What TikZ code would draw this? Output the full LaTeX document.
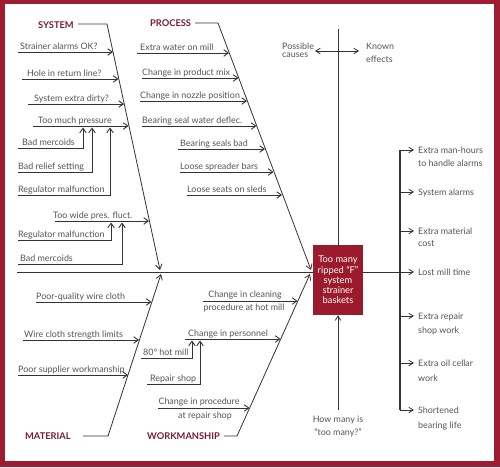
\documentclass[tikz,border=0pt]{standalone}
\usepackage{fontspec}
\setmainfont{Lato}
\usetikzlibrary{arrows.meta,calc}
\definecolor{frame}{HTML}{9E1B32}
\definecolor{boxred}{HTML}{9B1B2C}
\definecolor{cat}{HTML}{7A1838}
\definecolor{txt}{HTML}{555555}
\definecolor{ln}{HTML}{333333}
\newcommand\causeitem[6]{%
  \coordinate (#1s) at (#4,#3); \coordinate (#1e) at (#5,#3);
  \node[lbl] (#1) at (#2,#3-3) {#6};
  \draw[cause] (#1s) -- (#1e);}
\newcommand\minoritem[7]{%
  \coordinate (#1s) at (#4,#3); \coordinate (#1c) at (#5,#3); \coordinate (#1e) at (#5,#6);
  \node[lbl] (#1) at (#2,#3-3) {#7};
  \draw[cause] (#1s) -- (#1c) -- (#1e);}
\newcommand\effitem[3]{%
  \coordinate (#1s) at (400,#2); \coordinate (#1e) at (414,#2);
  \draw[feed] (#1s) -- (#1e);
  \node[elbl] (#1) at (418,#2+3) {#3};}
\begin{document}
\begin{tikzpicture}[x=1pt,y=-1pt,
  lbl/.style={anchor=base west,inner sep=0pt,text=txt,font=\fontsize{8.9}{10}\selectfont},
  elbl/.style={anchor=base west,inner sep=0pt,text=txt,font=\fontsize{8.9}{10}\selectfont},
  catl/.style={anchor=base west,inner sep=0pt,text=cat,font=\bfseries\fontsize{9.3}{10}\selectfont},
  cause/.style={draw=ln,line width=0.9pt,-{Straight Barb[length=4.5pt,width=6.5pt]}},
  bone/.style={draw=ln,line width=0.8pt,-{Straight Barb[length=5pt,width=6.5pt]}},
  feed/.style={draw=ln,line width=0.8pt,-{Straight Barb[length=4.5pt,width=5.5pt]}},
  plain/.style={draw=ln,line width=0.8pt},
 ]
\useasboundingbox (0,0) rectangle (500,467);
\fill[frame] (0,0) rectangle (500,467);
\fill[white] (5,4) rectangle (494,461);

% effect box
\node[fill=boxred,minimum width=50pt,minimum height=70pt,inner sep=0pt,text=white,align=center,
  font=\fontsize{9.3}{10.2}\selectfont] (eff) at (338,280) {Too many\\ripped “F”\\system\\strainer\\baskets};

% spine
\coordinate (spS) at (17,272);
\draw[line width=1pt,ln] (spS) -- (eff.west |- spS);
\coordinate (lostE) at (414,272);
\draw[feed] (eff.east |- spS) -- (lostE);

% top divider
\coordinate (topv) at (338,29);
\draw[plain] (topv) -- (eff.north);
\coordinate (pa) at (315,51); \coordinate (ka) at (359,51);
\draw[draw=ln,line width=0.8pt,{Straight Barb[length=4.5pt,width=5.5pt]}-{Straight Barb[length=4.5pt,width=5.5pt]}] (pa) -- (ka);
\node[lbl] (pc1) at (282,49) {Possible};
\node[lbl] (pc2) at (282,57) {causes};
\node[lbl] (ke1) at (366,49) {Known};
\node[lbl] (ke2) at (366,62) {effects};

% bottom question
\node[lbl,anchor=base] (hm1) at (338,422) {How many is};
\node[lbl,anchor=base] (hm2) at (338,435) {“too many?”};
\coordinate (hmt) at (338,410);
\draw[feed] (hmt) -- (eff.south);

% effects
\coordinate (vt) at (400,150); \coordinate (vb) at (400,410);
\draw[draw=ln,line width=1.2pt] (vt) -- (vb);
\effitem{e1}{150}{Extra man-hours}
\node[elbl] (e1b) at (418,166) {to handle alarms};
\effitem{e2}{192}{System alarms}
\effitem{e3}{231}{Extra material}
\node[elbl] (e3b) at (418,246) {cost};
\node[elbl] (e4) at (418,275) {Lost mill time};
\effitem{e5}{316}{Extra repair}
\node[elbl] (e5b) at (418,333) {shop work};
\effitem{e6}{363}{Extra oil cellar}
\node[elbl] (e6b) at (418,381) {work};
\effitem{e7}{410}{Shortened}
\node[elbl] (e7b) at (418,428) {bearing life};

% SYSTEM bone
\node[catl] (sys) at (38,28) {SYSTEM};
\coordinate (sysA) at (78,24); \coordinate (sysB) at (107,24); \coordinate (sysC) at (160,270);
\draw[bone] (sysA) -- (sysB) -- (sysC);
\causeitem{s1}{20}{52}{18}{113}{Strainer alarms OK?}
\causeitem{s2}{27}{79}{22}{118.5}{Hole in return line?}
\causeitem{s3}{34}{104}{28}{124}{System extra dirty?}
\causeitem{s4}{38}{126}{33}{128.5}{Too much pressure}
\minoritem{s4a}{22}{148}{18}{83}{127.5}{Bad mercoids}
\minoritem{s4b}{18}{172}{18}{92}{127.5}{Bad relief setting}
\minoritem{s4c}{18}{195}{18}{110}{127.5}{Regulator malfunction}
\causeitem{s5}{53}{221}{55}{149}{Too wide pres. fluct.}
\minoritem{s5a}{18}{240}{18}{111}{222.5}{Regulator malfunction}
\minoritem{s5b}{20}{264}{18}{122}{222.5}{Bad mercoids}

% PROCESS bone
\node[catl] (pro) at (150,26) {PROCESS};
\coordinate (proA) at (195,23); \coordinate (proB) at (218,23); \coordinate (proC) at (311,270);
\draw[bone] (proA) -- (proB) -- (proC);
\causeitem{p1}{140}{53}{137}{229}{Extra water on mill}
\causeitem{p2}{142}{78}{142}{238.5}{Change in product mix}
\causeitem{p3}{140}{101}{140}{247}{Change in nozzle position}
\causeitem{p4}{142}{126}{142}{256.5}{Bearing seal water deflec.}
\causeitem{p5}{180}{149}{178}{265}{Bearing seals bad}
\causeitem{p6}{180}{172}{180}{273.5}{Loose spreader bars}
\causeitem{p7}{187}{195}{187}{282}{Loose seats on sleds}

% MATERIAL bone
\node[catl] (mat) at (25,439) {MATERIAL};
\coordinate (matA) at (83,436); \coordinate (matB) at (108,436); \coordinate (matC) at (161,274);
\draw[bone] (matA) -- (matB) -- (matC);
\causeitem{m1}{36}{302}{36}{151.5}{Poor-quality wire cloth}
\causeitem{m2}{24}{340}{23}{139}{Wire cloth strength limits}
\causeitem{m3}{18}{375}{18}{128}{Poor supplier workmanship}

% WORKMANSHIP bone
\node[catl] (wrk) at (147,439) {WORKMANSHIP};
\coordinate (wrkA) at (224,436); \coordinate (wrkB) at (237,436); \coordinate (wrkC) at (310,274);
\draw[bone] (wrkA) -- (wrkB) -- (wrkC);
\coordinate (w1s) at (203,301); \coordinate (w1e) at (297.5,301);
\draw[cause] (w1s) -- (w1e);
\node[lbl,anchor=base] (w1) at (245,297.5) {Change in cleaning};
\node[lbl,anchor=base] (w1b) at (244,310) {procedure at hot mill};
\causeitem{w2}{188}{339}{185}{280.5}{Change in personnel}
\minoritem{w2a}{143}{358}{141}{192}{340.5}{80° hot mill}
\minoritem{w2b}{150}{384}{147}{200}{340.5}{Repair shop}
\coordinate (w3s) at (158,408); \coordinate (w3e) at (249.5,408);
\draw[cause] (w3s) -- (w3e);
\node[lbl,anchor=base] (w3) at (199,404.5) {Change in procedure};
\node[lbl,anchor=base] (w3b) at (205,418) {at repair shop};
\end{tikzpicture}
\end{document}
